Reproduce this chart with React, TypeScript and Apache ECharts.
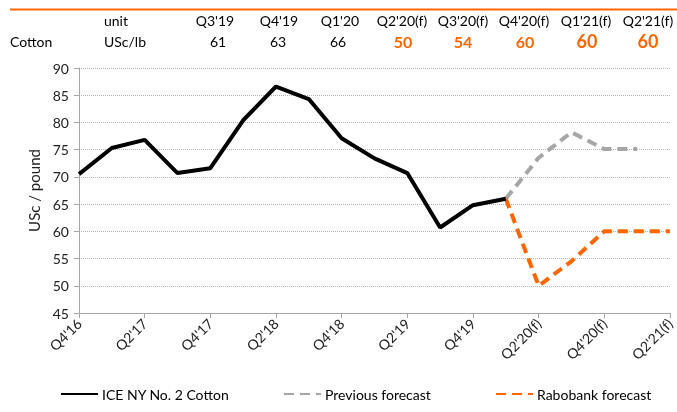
import React, { useEffect, useRef } from "react";
import * as echarts from "echarts";

const categories = [
  "Q4'16", "Q1'17", "Q2'17", "Q3'17", "Q4'17", "Q1'18", "Q2'18", "Q3'18", "Q4'18",
  "Q1'19", "Q2'19", "Q3'19", "Q4'19", "Q1'20", "Q2'20(f)", "Q3'20(f)", "Q4'20(f)", "Q1'21(f)", "Q2'21(f)",
];
const iceValues = [70.5, 75.3, 76.8, 70.7, 71.6, 80.4, 86.6, 84.3, 77.1, 73.4, 70.7, 60.7, 64.8, 66.0,
  null, null, null, null, null];
const previousForecast = [null, null, null, null, null, null, null, null, null, null, null, null, null,
  66.0, 73.5, 78.2, 75.1, 75.1, null];
const rabobankForecast = [null, null, null, null, null, null, null, null, null, null, null, null, null,
  66.0, 50, 54.5, 60, 60, 60];

const tableHeaders = ["Q3'19", "Q4'19", "Q1'20", "Q2'20(f)", "Q3'20(f)", "Q4'20(f)", "Q1'21(f)", "Q2'21(f)"];
const tableValues = ["61", "63", "66", "50", "54", "60", "60", "60"];
const tableForecast = [false, false, false, true, true, true, true, true];

const FONT = "Lato, 'Open Sans', sans-serif";
const ORANGE = "#FF6600";
const GRAY = "#A6A6A6";

export default function App() {
  const ref = useRef<HTMLDivElement>(null);
  useEffect(() => {
    if (!ref.current) return;
    const chart = echarts.init(ref.current, null, { renderer: "svg" });
    const headerX = [215, 279, 340, 402, 463, 524, 586, 648];
    const valueX = [218, 278, 338, 403, 463, 525, 587, 648];
    const graphics: any[] = [
      { type: "line", shape: { x1: 10, y1: 9.5, x2: 677, y2: 9.5 }, style: { stroke: ORANGE, lineWidth: 2 } },
      { type: "text", x: 116, y: 20, style: { text: "unit", font: `14px ${FONT}`, fill: "#000", align: "center", verticalAlign: "middle" } },
      { type: "text", x: 10, y: 41, style: { text: "Cotton", font: `14px ${FONT}`, fill: "#000", align: "left", verticalAlign: "middle" } },
      { type: "text", x: 125, y: 41, style: { text: "USc/lb", font: `14px ${FONT}`, fill: "#000", align: "center", verticalAlign: "middle" } },
    ];
    tableHeaders.forEach((h, i) => {
      graphics.push({ type: "text", x: headerX[i], y: 20, style: { text: h, font: `14px ${FONT}`, fill: "#000", align: "center", verticalAlign: "middle" } });
    });
    tableValues.forEach((v, i) => {
      const f = tableForecast[i];
      const size = i >= 6 ? 18 : f ? 16 : 14;
      graphics.push({
        type: "text", x: valueX[i], y: 41,
        style: { text: v, font: `${f ? "bold " : ""}${size}px ${FONT}`, fill: f ? ORANGE : "#000", align: "center", verticalAlign: "middle" },
      });
    });
    const legendBase = {
      top: 387, itemWidth: 37, itemHeight: 10, itemGap: 4, padding: 0,
      itemStyle: { opacity: 0 },
      textStyle: { fontSize: 14, color: "#000", fontFamily: FONT, padding: [0, 0, 0, -1] },
    };
    chart.setOption({
      animation: false,
      textStyle: { fontFamily: FONT },
      grid: { left: 79, right: 5, top: 68, bottom: 99 },
      graphic: graphics,
      legend: [
        { ...legendBase, data: ["ICE NY No. 2 Cotton"], left: 60 },
        { ...legendBase, data: ["Previous forecast"], left: 283 },
        { ...legendBase, data: ["Rabobank forecast"], left: 495 },
      ],
      xAxis: {
        type: "category",
        data: categories,
        boundaryGap: false,
        axisLine: { lineStyle: { color: "#A6A6A6", width: 1 } },
        axisTick: { interval: 1, length: 5, lineStyle: { color: "#A6A6A6" } },
        axisLabel: { interval: 1, rotate: 45, fontSize: 14, color: "#222", fontFamily: FONT, margin: 8 },
        splitLine: { show: false },
      },
      yAxis: {
        type: "value",
        min: 45,
        max: 90,
        interval: 5,
        name: "USc / pound",
        nameLocation: "middle",
        nameGap: 37,
        nameTextStyle: { fontSize: 15, color: "#222", fontFamily: FONT },
        axisLine: { show: true, lineStyle: { color: "#A6A6A6" } },
        axisTick: { show: true, length: 5, lineStyle: { color: "#A6A6A6" } },
        axisLabel: { fontSize: 14, color: "#222", fontFamily: FONT, margin: 10 },
        splitLine: { lineStyle: { color: "#B4B4B4", type: [1, 1], width: 1 } },
      },
      series: [
        { name: "ICE NY No. 2 Cotton", type: "line", data: iceValues, symbol: "none", color: "#000", lineStyle: { color: "#000", width: 4 }, z: 3 },
        { name: "Previous forecast", type: "line", data: previousForecast, symbol: "none", color: GRAY, lineStyle: { color: GRAY, width: 4, type: [10, 6] }, z: 2 },
        { name: "Rabobank forecast", type: "line", data: rabobankForecast, symbol: "none", color: ORANGE, lineStyle: { color: ORANGE, width: 4, type: [10, 6] }, z: 2 },
      ],
    });
    return () => chart.dispose();
  }, []);
  return <div ref={ref} style={{ width: 677, height: 412, position: "fixed", left: 0, top: 0 }} />;
}
